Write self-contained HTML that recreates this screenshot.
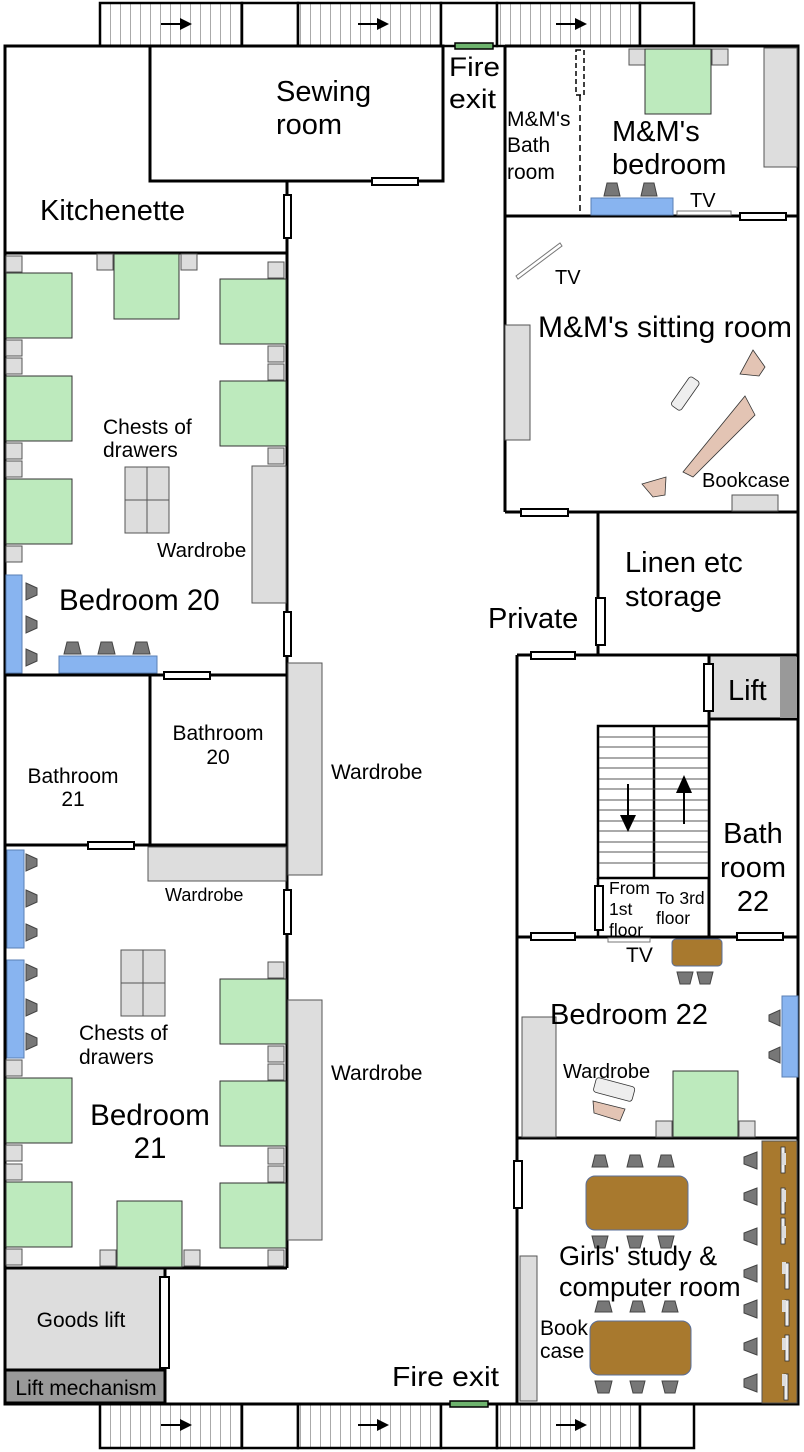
<!DOCTYPE html>
<html><head><meta charset="utf-8"><style>
html,body{margin:0;padding:0;background:#fff}
svg{display:block}
text{font-family:"Liberation Sans",sans-serif;fill:#000}
</style></head><body>
<svg width="804" height="1452" viewBox="0 0 804 1452" xmlns="http://www.w3.org/2000/svg">
<defs>
<pattern id="h" x="100" y="0" width="10" height="10" patternUnits="userSpaceOnUse"><rect width="10" height="10" fill="#fff"/><line x1="0.5" y1="0" x2="0.5" y2="10" stroke="#aaa" stroke-width="1"/></pattern>
<marker id="ar" markerWidth="6" markerHeight="6" refX="3" refY="3" orient="auto"><path d="M0,0 L6,3 L0,6z" fill="#000"/></marker>
</defs>
<g stroke="#000" stroke-width="2.5">
<rect x="100" y="3" width="142" height="43" fill="url(#h)"/>
<rect x="242" y="3" width="56" height="43" fill="#fff"/>
<rect x="298" y="3" width="143" height="43" fill="url(#h)"/>
<rect x="441" y="3" width="56" height="43" fill="#fff"/>
<rect x="497" y="3" width="143" height="43" fill="url(#h)"/>
<rect x="640" y="3" width="54" height="43" fill="#fff"/>
<rect x="100" y="1404" width="142" height="44" fill="url(#h)"/>
<rect x="242" y="1404" width="56" height="44" fill="#fff"/>
<rect x="298" y="1404" width="143" height="44" fill="url(#h)"/>
<rect x="441" y="1404" width="56" height="44" fill="#fff"/>
<rect x="497" y="1404" width="143" height="44" fill="url(#h)"/>
<rect x="640" y="1404" width="54" height="44" fill="#fff"/>
</g>
<g stroke="#000" stroke-width="2">
<line x1="161" y1="24" x2="186" y2="24" marker-end="url(#ar)"/>
<line x1="358" y1="24" x2="383" y2="24" marker-end="url(#ar)"/>
<line x1="556" y1="24" x2="581" y2="24" marker-end="url(#ar)"/>
<line x1="161" y1="1425" x2="186" y2="1425" marker-end="url(#ar)"/>
<line x1="358" y1="1425" x2="383" y2="1425" marker-end="url(#ar)"/>
<line x1="556" y1="1425" x2="581" y2="1425" marker-end="url(#ar)"/>
</g>

<g stroke="#000" stroke-width="3" fill="none">
<polyline points="443,46 5,46 5,1404 798,1404 798,46 505,46"/>
<rect x="150" y="46" width="293" height="135" fill="#fff"/>
<line x1="5" y1="253" x2="287" y2="253"/>
<line x1="287" y1="181" x2="287" y2="1268"/>
<line x1="5" y1="675" x2="287" y2="675"/>
<line x1="150" y1="675" x2="150" y2="845"/>
<line x1="5" y1="845" x2="287" y2="845"/>
<line x1="5" y1="1268" x2="287" y2="1268"/>
<line x1="505" y1="46" x2="505" y2="512"/>
<line x1="505" y1="216" x2="798" y2="216"/>
<line x1="505" y1="512" x2="798" y2="512"/>
<line x1="598" y1="512" x2="598" y2="655"/>
<line x1="517" y1="655" x2="798" y2="655"/>
<line x1="517" y1="655" x2="517" y2="1404"/>
<line x1="517" y1="937" x2="798" y2="937"/>
<line x1="517" y1="1138" x2="798" y2="1138"/>
<line x1="709" y1="719" x2="709" y2="937"/>
</g>
<line x1="580" y1="95" x2="580" y2="216" stroke="#000" stroke-width="1.5" stroke-dasharray="6,4"/>
<rect x="576" y="50" width="8" height="45" fill="#fff" stroke="#000" stroke-width="1.5" stroke-dasharray="5,3"/>

<rect x="5" y="1268" width="160" height="102" fill="#ddd" stroke="#000" stroke-width="3"/>
<rect x="5" y="1370" width="160" height="33" fill="#999" stroke="#000" stroke-width="3"/>
<rect x="709" y="655" width="89" height="64" fill="#ddd" stroke="#000" stroke-width="3"/>
<rect x="780" y="657" width="17" height="61" fill="#999"/>

<g stroke="#000" stroke-width="2.5" fill="#fff">
<rect x="598" y="726" width="111" height="152"/>
<line x1="654" y1="726" x2="654" y2="878"/>
<line x1="598" y1="878" x2="598" y2="937"/>
</g>
<g stroke="#555" stroke-width="1">
<path d="M599 737H708M599 747H708M599 758H708M599 768H708M599 779H708M599 789H708M599 800H708M599 810H708M599 821H708M599 831H708M599 842H708M599 852H708M599 863H708"/>
</g>
<g stroke="#000" stroke-width="2">
<line x1="628" y1="784" x2="628" y2="820"/>
<line x1="684" y1="824" x2="684" y2="788"/>
</g>
<path d="M620 815 L636 815 L628 832z" fill="#000"/>
<path d="M676 793 L692 793 L684 775z" fill="#000"/>

<g fill="#fff" stroke="#000" stroke-width="2">
<rect x="372" y="178" width="46" height="7"/>
<rect x="284" y="195" width="7" height="43"/>
<rect x="284" y="612" width="7" height="44"/>
<rect x="164" y="672" width="46" height="7"/>
<rect x="88" y="842" width="46" height="7"/>
<rect x="284" y="890" width="7" height="44"/>
<rect x="160" y="1277" width="9" height="91"/>
<rect x="740" y="213" width="46" height="7"/>
<rect x="521" y="509" width="47" height="7"/>
<rect x="596" y="598" width="9" height="47"/>
<rect x="531" y="652" width="44" height="7"/>
<rect x="704" y="664" width="9" height="47"/>
<rect x="595" y="886" width="8" height="44"/>
<rect x="531" y="933" width="44" height="7"/>
<rect x="737" y="933" width="46" height="7"/>
<rect x="514" y="1161" width="8" height="47"/>
</g>
<rect x="455" y="43" width="38" height="6" fill="#6db36d" stroke="#000" stroke-width="1.5"/>
<rect x="450" y="1401" width="38" height="6" fill="#6db36d" stroke="#000" stroke-width="1.5"/>

<g fill="#ddd" stroke="#555" stroke-width="1">
<rect x="288" y="663" width="34" height="212"/>
<rect x="288" y="1000" width="34" height="240"/>
<rect x="252" y="466" width="34" height="137"/>
<rect x="148" y="847" width="138" height="34"/>
<rect x="764" y="48" width="33" height="119"/>
<rect x="505" y="325" width="25" height="115"/>
<rect x="732" y="495" width="46" height="16"/>
<rect x="522" y="1017" width="34" height="120"/>
<rect x="520" y="1256" width="17" height="145"/>
<rect x="125" y="467" width="22" height="33"/><rect x="147" y="467" width="22" height="33"/>
<rect x="125" y="500" width="22" height="33"/><rect x="147" y="500" width="22" height="33"/>
<rect x="121" y="950" width="22" height="33"/><rect x="143" y="950" width="22" height="33"/>
<rect x="121" y="983" width="22" height="33"/><rect x="143" y="983" width="22" height="33"/>
<rect x="6" y="256" width="16" height="16"/><rect x="6" y="340" width="16" height="16"/><rect x="6" y="358" width="16" height="16"/><rect x="6" y="443" width="16" height="16"/><rect x="6" y="461" width="16" height="16"/><rect x="6" y="546" width="16" height="16"/>
<rect x="97" y="254" width="16" height="16"/><rect x="181" y="254" width="16" height="16"/>
<rect x="268" y="262" width="16" height="16"/><rect x="268" y="346" width="16" height="16"/><rect x="268" y="364" width="16" height="16"/><rect x="268" y="448" width="16" height="16"/>
<rect x="6" y="1060" width="16" height="16"/><rect x="6" y="1145" width="16" height="16"/><rect x="6" y="1164" width="16" height="16"/><rect x="6" y="1249" width="16" height="16"/>
<rect x="268" y="962" width="16" height="16"/><rect x="268" y="1046" width="16" height="16"/><rect x="268" y="1064" width="16" height="16"/><rect x="268" y="1148" width="16" height="16"/><rect x="268" y="1166" width="16" height="16"/><rect x="268" y="1250" width="16" height="16"/>
<rect x="100" y="1250" width="16" height="16"/><rect x="184" y="1250" width="16" height="16"/>
<rect x="629" y="49" width="16" height="16"/><rect x="712" y="49" width="16" height="16"/>
<rect x="656" y="1121" width="16" height="16"/><rect x="739" y="1121" width="16" height="16"/>
</g>
<g fill="#bdeabd" stroke="#333" stroke-width="1">
<rect x="6" y="273" width="66" height="65"/><rect x="6" y="376" width="66" height="65"/><rect x="6" y="479" width="66" height="65"/>
<rect x="114" y="254" width="65" height="65"/>
<rect x="220" y="279" width="66" height="65"/><rect x="220" y="381" width="66" height="65"/>
<rect x="6" y="1078" width="66" height="65"/><rect x="6" y="1182" width="66" height="65"/>
<rect x="220" y="979" width="66" height="65"/><rect x="220" y="1081" width="66" height="65"/><rect x="220" y="1183" width="66" height="65"/>
<rect x="117" y="1201" width="65" height="66"/>
<rect x="645" y="49" width="66" height="65"/>
<rect x="673" y="1071" width="65" height="66"/>
</g>
<g fill="#88b4f0" stroke="#5a7fb5" stroke-width="1">
<rect x="6" y="575" width="16" height="98"/>
<rect x="59" y="656" width="98" height="17"/>
<rect x="7" y="850" width="17" height="98"/>
<rect x="7" y="960" width="17" height="98"/>
<rect x="591" y="198" width="82" height="17"/>
<rect x="782" y="996" width="16" height="81"/>
</g>
<g fill="#a8792e" stroke="#5a6f9a" stroke-width="1">
<rect x="672" y="939" width="50" height="27" rx="4"/>
<rect x="586" y="1176" width="102" height="54" rx="9"/>
<rect x="590" y="1321" width="101" height="54" rx="9"/>
<rect x="762" y="1141" width="35" height="262" stroke="#555"/>
</g>
<g fill="#eee" stroke="#333" stroke-width="0.8">
<rect x="781" y="1147" width="4" height="26"/><rect x="781" y="1188" width="4" height="26"/><rect x="781" y="1218" width="4" height="26"/>
<rect x="785" y="1263" width="4" height="26"/><rect x="785" y="1300" width="4" height="26"/><rect x="785" y="1335" width="4" height="26"/><rect x="784" y="1374" width="4" height="26"/>
</g>
<g fill="#ddd"><rect x="782" y="1153" width="4" height="12"/><rect x="782" y="1190" width="4" height="12"/><rect x="782" y="1226" width="4" height="12"/><rect x="782" y="1262" width="4" height="12"/><rect x="782" y="1300" width="4" height="12"/><rect x="782" y="1338" width="4" height="12"/><rect x="782" y="1374" width="4" height="12"/></g>

<g fill="#777" stroke="#444" stroke-width="1">
<path d="M26 583 L37 588 L37 595 L26 600z"/><path d="M26 616 L37 621 L37 628 L26 633z"/><path d="M26 649 L37 654 L37 661 L26 666z"/>
<path d="M67 642 L78 642 L81 654 L64 654z"/><path d="M101 642 L112 642 L115 654 L98 654z"/><path d="M136 642 L147 642 L150 654 L133 654z"/>
<path d="M26 854 L37 859 L37 866 L26 871z"/><path d="M26 890 L37 895 L37 902 L26 907z"/><path d="M26 924 L37 929 L37 936 L26 941z"/>
<path d="M26 964 L37 969 L37 976 L26 981z"/><path d="M26 999 L37 1004 L37 1011 L26 1016z"/><path d="M26 1033 L37 1038 L37 1045 L26 1050z"/>
<path d="M607 183 L617 183 L620 196 L604 196z"/><path d="M644 183 L654 183 L657 196 L641 196z"/>
<path d="M677 972 L693 972 L690 984 L680 984z"/><path d="M697 972 L713 972 L710 984 L700 984z"/>
<path d="M780 1010 L780 1026 L769 1021 L769 1015z"/><path d="M780 1047 L780 1063 L769 1058 L769 1052z"/>
<path d="M595 1155 L605 1155 L608 1167 L592 1167z"/><path d="M630 1155 L640 1155 L643 1167 L627 1167z"/><path d="M661 1155 L671 1155 L674 1167 L658 1167z"/>
<path d="M592 1236 L608 1236 L605 1248 L595 1248z"/><path d="M627 1236 L643 1236 L640 1248 L630 1248z"/><path d="M658 1236 L674 1236 L671 1248 L661 1248z"/>
<path d="M598 1301 L609 1301 L612 1312 L595 1312z"/><path d="M633 1301 L642 1301 L645 1312 L630 1312z"/><path d="M665 1301 L675 1301 L678 1312 L662 1312z"/>
<path d="M595 1381 L612 1381 L609 1393 L598 1393z"/><path d="M630 1381 L645 1381 L642 1393 L633 1393z"/><path d="M662 1381 L678 1381 L675 1393 L665 1393z"/>
<path d="M757 1152 L757 1169 L744 1164 L744 1157z"/><path d="M757 1188 L757 1205 L744 1200 L744 1193z"/><path d="M757 1228 L757 1245 L744 1240 L744 1233z"/><path d="M757 1265 L757 1282 L744 1277 L744 1270z"/><path d="M757 1300 L757 1318 L744 1313 L744 1305z"/><path d="M757 1338 L757 1355 L744 1350 L744 1343z"/><path d="M757 1374 L757 1392 L744 1387 L744 1379z"/>
</g>
<g fill="#fff" stroke="#777" stroke-width="1">
<rect x="677" y="211" width="54" height="4"/>
<rect x="608" y="938" width="42" height="4"/>
<path d="M516 276 L560 243 L562 246 L518 279z"/>
</g>
<g fill="#e3c4b4" stroke="#333" stroke-width="0.8">
<path d="M753 350 L765 367 L759 376 L740 374z"/>
<path d="M745 396 L755 415 L693 477 L683 472z"/>
<path d="M642 484 L666 477 L665 495 L653 497z"/>
<path d="M593 1101 L625 1109 L620 1121 L594 1113z"/>
</g>
<g fill="#eee" stroke="#333" stroke-width="0.8">
<rect x="668" y="388" width="35" height="12" rx="3" transform="rotate(-55 685 394)"/>
<rect x="594" y="1082" width="40" height="15" rx="3" transform="rotate(15 614 1090)"/>
</g>

<text x="276" y="101" font-size="29">Sewing</text>
<text x="276" y="134" font-size="29">room</text>
<text x="40" y="220" font-size="29">Kitchenette</text>
<text x="449" y="76" font-size="27" textLength="51" lengthAdjust="spacingAndGlyphs">Fire</text>
<text x="449" y="108" font-size="27" textLength="47" lengthAdjust="spacingAndGlyphs">exit</text>
<text x="507" y="126" font-size="21">M&amp;M's</text>
<text x="507" y="152" font-size="21">Bath</text>
<text x="507" y="179" font-size="21">room</text>
<text x="612" y="141" font-size="29">M&amp;M's</text>
<text x="612" y="174" font-size="29">bedroom</text>
<text x="690" y="207" font-size="20">TV</text>
<text x="555" y="284" font-size="20">TV</text>
<text x="538" y="337" font-size="30" textLength="254" lengthAdjust="spacingAndGlyphs">M&amp;M's sitting room</text>
<text x="702" y="487" font-size="20">Bookcase</text>
<text x="103" y="434" font-size="21">Chests of</text>
<text x="103" y="457" font-size="21">drawers</text>
<text x="157" y="557" font-size="20.5">Wardrobe</text>
<text x="59" y="610" font-size="29.5">Bedroom 20</text>
<text x="625" y="572" font-size="29">Linen etc</text>
<text x="625" y="606" font-size="29">storage</text>
<text x="488" y="628" font-size="29">Private</text>
<text x="728" y="700" font-size="29">Lift</text>
<text x="218" y="740" font-size="21" text-anchor="middle">Bathroom</text>
<text x="218" y="764" font-size="21" text-anchor="middle">20</text>
<text x="73" y="783" font-size="21" text-anchor="middle">Bathroom</text>
<text x="73" y="806" font-size="21" text-anchor="middle">21</text>
<text x="331" y="779" font-size="21">Wardrobe</text>
<text x="331" y="1080" font-size="21">Wardrobe</text>
<text x="753" y="843" font-size="29" text-anchor="middle">Bath</text>
<text x="753" y="877" font-size="29" text-anchor="middle">room</text>
<text x="753" y="911" font-size="29" text-anchor="middle">22</text>
<text x="609" y="894" font-size="17.5">From</text>
<text x="609" y="915" font-size="17.5">1st</text>
<text x="609" y="936" font-size="17.5">floor</text>
<text x="656" y="904" font-size="17.5">To 3rd</text>
<text x="656" y="924" font-size="17.5">floor</text>
<text x="165" y="901" font-size="18">Wardrobe</text>
<text x="626" y="962" font-size="21">TV</text>
<text x="79" y="1040" font-size="21">Chests of</text>
<text x="79" y="1064" font-size="21">drawers</text>
<text x="550" y="1024" font-size="29">Bedroom 22</text>
<text x="563" y="1078" font-size="20">Wardrobe</text>
<text x="150" y="1125" font-size="29.5" text-anchor="middle">Bedroom</text>
<text x="150" y="1158" font-size="29.5" text-anchor="middle">21</text>
<text x="559" y="1265" font-size="27">Girls' study &amp;</text>
<text x="559" y="1296" font-size="27">computer room</text>
<text x="540" y="1335" font-size="21">Book</text>
<text x="540" y="1358" font-size="21">case</text>
<text x="81" y="1327" font-size="21" text-anchor="middle">Goods lift</text>
<text x="86" y="1395" font-size="21" text-anchor="middle">Lift mechanism</text>
<text x="392" y="1386" font-size="28" textLength="107" lengthAdjust="spacingAndGlyphs">Fire exit</text>
</svg>
</body></html>
